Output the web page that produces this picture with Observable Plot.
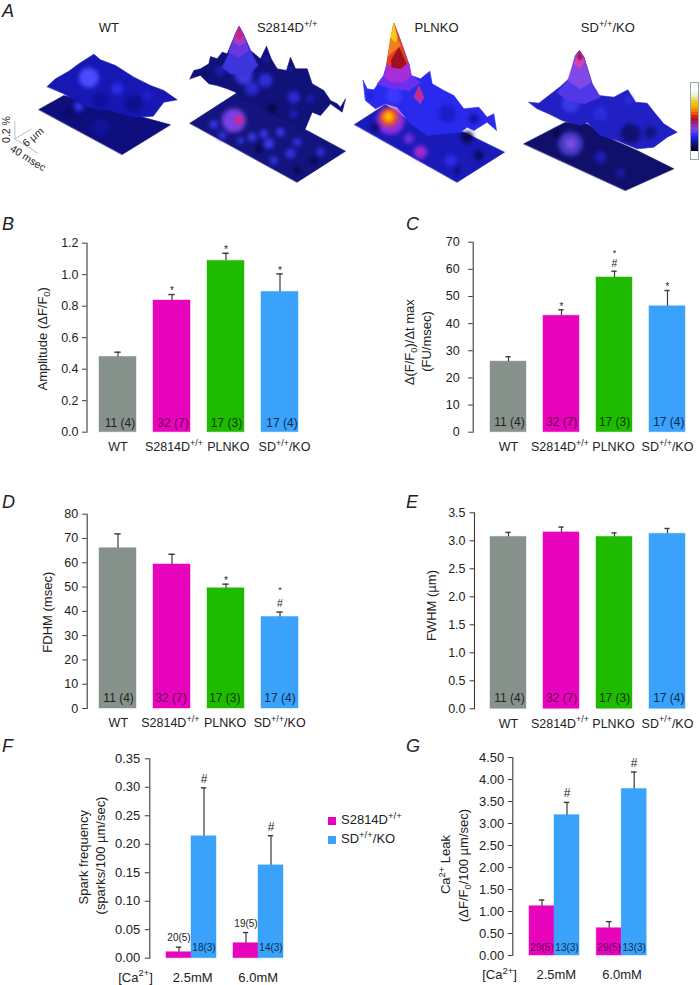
<!DOCTYPE html>
<html>
<head>
<meta charset="utf-8">
<script src="https://cdn.jsdelivr.net/npm/d3@7"></script>
<script src="https://cdn.jsdelivr.net/npm/@observablehq/plot@0.6"></script>
<style>
html,body{margin:0;padding:0;background:#fff;}
#page{position:relative;width:700px;height:985px;overflow:hidden;font-family:"Liberation Sans",Arial,sans-serif;color:#222;}
#page svg{position:absolute;overflow:visible;}
.letter{position:absolute;font-style:italic;font-size:18px;line-height:18px;color:#222;}
.legend{position:absolute;font-size:13px;line-height:14px;white-space:nowrap;}
.legend i{position:absolute;width:8px;height:8px;left:-13.5px;top:4px;}
.legend sup{font-size:9.5px;line-height:0;}
.glow{filter:blur(2.2px);}
</style>
</head>
<body>
<div id="page"></div>
<script>
// ---------- data: bar panels ----------
const groups = ["WT", "S2814D^{+/+}", "PLNKO", "SD^{+/+}/KO"];
const groupColors = ["#87928c", "#e803bd", "#1fbb00", "#3aa2fb"];
const groupText = ["#1e2422", "#640050", "#0d3a00", "#0b2c4c"];
const groupN = ["11 (4)", "32 (7)", "17 (3)", "17 (4)"];

const amplitude = [0.478, 0.836, 1.088, 0.891];
const amplitudeTop = [0.508, 0.874, 1.136, 1.005];
const riseRate = [26.0, 42.9, 57.0, 46.4];
const riseRateTop = [27.8, 45.1, 59.3, 52.2];
const fdhm = [66.0, 59.3, 49.5, 37.7];
const fdhmTop = [71.9, 63.5, 51.2, 39.7];
const fwhm = [3.07, 3.15, 3.07, 3.125];
const fwhmTop = [3.15, 3.245, 3.14, 3.22];

const leakKeys = ["2.5 S", "2.5 SD", "6.0 S", "6.0 SD"];
const leakConc = ["2.5mM", "6.0mM"];
const leakColors = ["#e803bd", "#3aa2fb", "#e803bd", "#3aa2fb"];
const sparkFreq = [0.0105, 0.214, 0.0263, 0.163];
const sparkFreqTop = [0.0193, 0.299, 0.045, 0.215];
const sparkN = ["20(5)", "18(3)", "19(5)", "14(3)"];
const caLeak = [1.12, 3.19, 0.62, 3.785];
const caLeakTop = [1.26, 3.48, 0.77, 4.17];
const leakN = ["29(5)", "13(3)", "29(5)", "13(3)"];

// ---------- data: panel A, outlines and glows (crop units, 3 per pixel) ----------
const wtPlate = [["#0e0e7c","115,327 190,285 510,373 365,462"]];
const wtPlateGlow = [[235,318,5,"#3434e8"],[300,380,9,"#13139a"],[205,340,5,"#0a0a66"]];
const wtSurface = [["#1717b4","140,258 165,235 205,212 235,190 280,161 300,178 345,195 400,230 450,255 490,270 530,298 490,305 458,347 400,350 330,330 260,320 190,280"]];
const wtSurfaceGlow = [[265,232,10,"#4c4cff"],[350,265,6,"#2c2ce4"],[400,310,9,"#0f0f90"],[300,300,8,"#10109c"],[440,285,5,"#2020cc"]];
const wtPeak = [];

const sdPlate = [["#14147e","28,368 165,280 300,330 370,385 495,452 350,545"]];
const sdPlateGlow = [[160,360,12,"#7a40e4"],[175,358,4,"#e82078"],[250,400,4,"#3c3cf4"],[300,395,4,"#3c3cf4"],[265,430,5,"#3c3cf4"],[330,460,5,"#3232e4"],[215,410,4,"#3c3cf4"],[100,372,4,"#3a3af0"],[280,480,4,"#3232e4"],[350,425,4,"#3232e4"],[420,455,4,"#3232e4"],[125,405,4,"#3232e4"],[180,420,3,"#3c3cf4"],[350,510,4,"#08084e"],[400,480,4,"#08084e"],[235,445,4,"#08084e"]];
const sdSurface = [["#11117a","28,235 40,210 60,205 85,190 90,168 110,175 125,155 140,160 165,100 176,78 188,100 210,150 240,175 258,137 272,175 290,205 318,210 330,170 345,205 380,205 395,250 430,270 450,300 470,310 480,320 495,295 485,335 450,310 420,345 395,335 370,395 350,385 320,360 290,350 260,330 220,310 180,300 165,275 140,265 110,255 85,250 60,225"]];
const sdSurfaceGlow = [[190,225,9,"#3a3ae0"],[255,240,7,"#2e2ed8"],[215,265,7,"#2a2ad0"],[340,290,6,"#2c2cd4"],[258,175,2,"#2a2acc"],[330,205,2,"#2a2acc"],[120,210,5,"#1e1eb0"],[275,325,5,"#08084a"],[390,295,4,"#1e1eb0"],[75,218,2,"#060638"],[340,340,4,"#2020c0"]];
const sdPeak = [["#3c34dc","125,200 150,150 165,100 176,78 188,100 210,150 232,195 205,225 150,220"],["#6a38e0","145,155 165,100 176,78 188,100 205,150 175,170"],["#a838c8","158,122 168,96 176,80 186,98 196,125 177,135"],["#d02070","167,106 176,82 186,104 177,116"]];

const koPlate = [["#1a1ab8","12,372 105,312 175,360 340,395 462,455 320,545"]];
const koPlateGlow = [[120,360,14,"#9030e0"],[115,350,9,"#f05018"],[114,349,5,"#ffc000"],[210,455,7,"#8030e0"],[210,455,3,"#d820a0"],[175,415,5,"#7030e0"],[350,410,6,"#080850"],[385,465,5,"#0a0a60"],[75,380,4,"#0a0a60"],[300,480,6,"#2c2ce8"],[320,510,3,"#0a0a60"]];
const koSurface = [["#2a2aee","38,240 50,265 70,268 100,225 110,190 130,68 150,120 175,190 182,225 210,235 238,212 245,250 280,270 310,285 340,325 385,320 410,350 430,340 438,390 410,365 370,390 350,380 330,395 280,400 230,405 180,370 140,320 105,310 75,325 45,300"]];
const koSurfaceGlow = [[290,340,9,"#1c1cc8"],[370,355,5,"#1414a8"],[130,285,8,"#3a3aff"],[60,285,2,"#1414a8"]];
const koPeak = [["#6a30f0","80,250 100,225 110,190 175,190 182,225 210,245 175,270 120,265"],["#a82cd8","100,225 110,190 125,150 175,190 182,225 160,245 120,245"],["#e84020","108,190 130,68 150,120 172,185 150,205"],["#a01020","122,180 145,140 168,190 150,205 125,200"],["#f08020","113,165 120,110 140,110 150,135"],["#f8c820","120,110 130,68 140,110 135,125"],["#b030b0","190,290 205,255 220,290 210,310"],["#d02878","198,280 205,262 214,285 206,295"]];

const dkPlate = [["#10106a","10,430 135,365 200,370 260,410 350,450 460,505 315,570"]];
const dkPlateGlow = [[150,430,12,"#4a3ccc"],[150,430,5,"#8050e0"],[110,398,4,"#08084a"],[240,470,6,"#1e1eb8"],[300,520,5,"#1a1aa0"]];
const dkSurface = [["#2020c4","25,305 55,308 85,285 120,258 150,230 165,165 177,150 190,170 215,250 235,285 280,290 322,268 345,305 380,308 405,340 430,370 470,395 440,410 400,440 350,445 290,420 240,405 200,365 180,375 125,360 85,340 50,325"]];
const dkSurfaceGlow = [[330,400,10,"#10106e"],[390,395,6,"#12127c"],[150,310,9,"#3838e8"],[240,340,7,"#2c2cdc"],[325,300,4,"#2e2ee0"]];
const dkPeak = [["#5038e8","110,275 150,230 165,165 177,150 190,170 215,250 240,290 190,310 140,300"],["#8048e4","142,240 165,165 177,150 190,170 212,245 180,265"],["#d040b0","160,190 177,150 192,185 178,205"],["#b01850","170,170 177,152 186,172 178,180"]];

const colorbarStops = ["#f4f8f0","#eef0c8","#e8e070","#e8d030","#f0c010","#f8a000","#f88000","#f05010","#d82010","#b01040","#a02070","#9030b0","#8040e0","#6040f0","#3030f0","#2020e0","#1818b0","#101080","#0a0a50","#050520"];

const scaleBarLines = [[[43,415],[43,362]],[[43,415],[92,386]],[[43,415],[112,458]]];

// ---------- helpers ----------
const page = document.getElementById("page");
const FONT = '"Liberation Sans", Arial, sans-serif';

function rich(svg) {
  d3.select(svg).selectAll("text").each(function () {
    const s = this.textContent;
    if (!/[\^_]\{/.test(s)) return;
    const t = d3.select(this);
    t.text(null);
    const parts = s.split(/([\^_]\{[^}]*\})/).filter(p => p !== "");
    let back = 0;
    for (const p of parts) {
      const m = p.match(/^([\^_])\{(.*)\}$/);
      if (m) {
        const shift = m[1] === "^" ? -0.42 : 0.22;
        t.append("tspan").attr("font-size", "72%").attr("dy", (shift + back) / 0.72 + "em").text(m[2]);
        back = -shift;
      } else {
        const sp = t.append("tspan").text(p);
        if (back) sp.attr("dy", back + "em");
        back = 0;
      }
    }
  });
}

function place(svg, left, top) {
  svg.style.left = left + "px";
  svg.style.top = top + "px";
  rich(svg);
  page.appendChild(svg);
  return svg;
}

const sideTitle = (t, axisX, mid) => Plot.text([t.text], {frameAnchor: "left", textAnchor: "middle", lineAnchor: "middle", rotate: -90, dx: t.x - axisX, dy: t.y - mid, fontSize: 13, text: d => d, fill: "#222"});

function barPanel(o) {
  const {left, top, width, axisX, yTop, yBottom, domain, ticks, fmt, means, uppers, bandStart, step, bandwidth} = o;
  const height = yBottom - top + 32;
  const p = (step - bandwidth) / step;
  const rows = groups.map((g, i) => ({g, v: means[i], u: uppers[i], i}));
  const capInset = (bandwidth - 6) / 2;
  const marks = [
    Plot.barY(rows, {x: "g", y: "v", fill: "g", stroke: "g", strokeOpacity: 0.45, strokeWidth: 1}),
    Plot.ruleX(rows, {x: "g", y1: "v", y2: "u", stroke: "#3a3a3a", strokeWidth: 1.2}),
    Plot.tickY(rows, {x: "g", y: "u", stroke: "#3a3a3a", strokeWidth: 1.4, insetLeft: capInset, insetRight: capInset}),
    Plot.frame({anchor: "left", stroke: "#3a3a3a", strokeWidth: 1.1}),
    Plot.axisY({ticks, tickFormat: d3.format(fmt), tickSize: 4.5, tickPadding: o.tickPad, fontSize: 12.5, label: null, stroke: "#3a3a3a"}),
    ...groups.map((g, i) => Plot.axisX({ticks: [g], tickSize: 0, tickPadding: 10, fontSize: 12.5, label: null, dx: o.labelDx[i], tickFormat: d => d})),
    ...rows.map(r => Plot.text([r], {x: "g", y: () => 0, text: () => groupN[r.i], fontSize: 12, fill: groupText[r.i], dx: o.nDx[r.i], dy: o.nDy})),
    ...rows.filter(r => o.stars[r.i]).map(r => Plot.text([r], {x: "g", y: "u", text: () => "*", fontSize: o.hash[r.i] ? 9 : 10, fill: "#222", dy: o.hash[r.i] ? o.starOverHash : -3.3})),
    ...rows.filter(r => o.hash[r.i]).map(r => Plot.text([r], {x: "g", y: "u", text: () => "#", fontSize: 10.5, fill: "#222", dy: -8})),
    ...o.titles.map(t => sideTitle(t, axisX, (yTop + yBottom) / 2))
  ];
  return place(Plot.plot({
    width, height, marginTop: yTop - top, marginBottom: height - (yBottom - top), marginLeft: axisX - left, marginRight: 0,
    style: {fontFamily: FONT, background: "transparent", color: "#222", overflow: "visible"},
    x: {domain: groups, range: [bandStart - left, bandStart - left + 4 * step], paddingInner: p, paddingOuter: p / 2, axis: null, label: null},
    y: {domain, axis: null, label: null},
    color: {domain: groups, range: groupColors},
    marks
  }), left, top);
}

function leakPanel(o) {
  const {left, top, width, axisX, yTop, yBottom, domain, ticks, means, uppers, labels, bandStart, step, gapDx} = o;
  const height = yBottom - top + 32;
  const rows = leakKeys.map((k, i) => ({k, v: means[i], u: uppers[i], i, n: labels[i]}));
  const capInset = (step - 6) / 2;
  const first = rows.slice(0, 2), second = rows.slice(2);
  const blocks = [first, second].flatMap((rs, j) => {
    const dx = j ? gapDx : 0;
    return [
      Plot.barY(rs, {x: "k", y: "v", fill: "k", stroke: "k", strokeOpacity: 0.45, dx}),
      Plot.ruleX(rs, {x: "k", y1: "v", y2: "u", stroke: "#3a3a3a", strokeWidth: 1.2, dx}),
      Plot.tickY(rs, {x: "k", y: "u", stroke: "#3a3a3a", strokeWidth: 1.4, insetLeft: capInset, insetRight: capInset, dx}),
      Plot.axisX({ticks: [rs[1].k], tickSize: 0, tickPadding: 14.5, fontSize: 13, label: null, dx: dx - step / 2 + o.concDx[j], tickFormat: () => leakConc[j]})
    ];
  });
  const nMarks = rows.map(r => {
    const dx = r.i >= 2 ? gapDx : 0;
    const above = o.nAbove && r.i % 2 === 0;
    return Plot.text([r], {x: "k", y: above ? "u" : () => 0, text: "n", fontSize: 10, dx, dy: above ? -9 : o.nDy,
      fill: above ? "#222" : (r.i % 2 ? "#0b2c4c" : "#640050")});
  });
  const hashes = rows.filter(r => r.i % 2).map(r => Plot.text([r], {x: "k", y: "u", text: () => "#", fontSize: 12, fill: "#222", dy: -9, dx: r.i >= 2 ? gapDx : 0}));
  return place(Plot.plot({
    width, height, marginTop: yTop - top, marginBottom: height - (yBottom - top), marginLeft: axisX - left, marginRight: 0,
    style: {fontFamily: FONT, background: "transparent", color: "#222", overflow: "visible"},
    x: {domain: leakKeys, range: [bandStart - left, bandStart - left + 4 * step], padding: 0, axis: null, label: null},
    y: {domain, axis: null, label: null},
    color: {domain: leakKeys, range: leakColors},
    marks: [
      ...blocks, ...nMarks, ...hashes,
      Plot.frame({anchor: "left", stroke: "#3a3a3a", strokeWidth: 1.1}),
      Plot.axisY({ticks, tickFormat: d3.format(".2f"), tickSize: 4.5, tickPadding: o.tickPad, fontSize: 13, label: null, stroke: "#3a3a3a"}),
      Plot.text(["[Ca^{2+}]"], {frameAnchor: "bottom-left", textAnchor: "middle", lineAnchor: "middle", dx: o.caX - axisX, dy: 19.5, fontSize: 13, text: d => d, fill: "#222"}),
      ...o.titles.map(t => sideTitle(t, axisX, (yTop + yBottom) / 2))
    ]
  }), left, top);
}

function surface(left, w, plate, plateGlow, surf, surfGlow, peak, extra = []) {
  const poly = list => list.map(([c, pts]) => {
    const P = pts.split(" ").map(s => s.split(",").map(Number));
    return Plot.line(P, {x: d => d[0], y: d => d[1], curve: "linear-closed", fill: c, stroke: c, strokeWidth: 0.6});
  });
  const glow = list => list.length ? [Plot.dot(list, {x: d => d[0], y: d => d[1], r: d => d[2], fill: d => d[3], stroke: "none", className: "glow"})] : [];
  return place(Plot.plot({
    width: w, height: 190, margin: 0,
    style: {fontFamily: FONT, background: "transparent", color: "#222", overflow: "visible"},
    x: {domain: [0, w * 3], axis: null},
    y: {domain: [570, 0], axis: null},
    r: {type: "identity"},
    color: {type: "identity"},
    marks: [...poly(plate), ...glow(plateGlow), ...poly(surf), ...glow(surfGlow), ...poly(peak), ...extra]
  }), left, 0);
}

// ---------- Panel A ----------
const crop = (x, y, text, o = {}) => Plot.text([text], {x: () => x, y: () => y, text: d => d, fontSize: 13, fill: "#222", ...o});
surface(0, 180, wtPlate, wtPlateGlow, wtSurface, wtSurfaceGlow, wtPeak, [
  ...scaleBarLines.map(l => Plot.line(l, {x: d => d[0], y: d => d[1], stroke: "#bcc2c0", strokeWidth: 1})),
  crop(17, 387, "0.2 %", {rotate: -90, fontSize: 10.5}),
  crop(98, 410, "6 µm", {rotate: -40, fontSize: 10.5}),
  crop(82, 473, "40 msec", {rotate: 32, fontSize: 10.5}),
  crop(325, 82, "WT")
]);
surface(180, 170, sdPlate, sdPlateGlow, sdSurface, sdSurfaceGlow, sdPeak, [crop(320, 82, "S2814D^{+/+}")]);
surface(350, 170, koPlate, koPlateGlow, koSurface, koSurfaceGlow, koPeak, [crop(258, 82, "PLNKO")]);
surface(520, 180, dkPlate, dkPlateGlow, dkSurface, dkSurfaceGlow, dkPeak, [crop(262, 82, "SD^{+/+}/KO")]);

// colour bar
place(Plot.plot({
  width: 8, height: 77, margin: 0,
  style: {background: "transparent", overflow: "visible"},
  x: {axis: null}, y: {domain: colorbarStops, axis: null, padding: 0},
  color: {type: "identity"},
  marks: [
    Plot.cell(colorbarStops, {y: d => d, fill: d => d}),
    Plot.frame({stroke: "#9aa5a0", strokeWidth: 1})
  ]
}), 690, 82);

// ---------- Panels B–E ----------
const L = {band: 90.7, step: 54, bw: 36.6};
const R = {band: 480.2, step: 53.9, bw: 36.8};
barPanel({
  left: 0, top: 225, width: 345, axisX: 86.5, yTop: 242.7, yBottom: 431.7, domain: [0, 1.2],
  ticks: [0, 0.2, 0.4, 0.6, 0.8, 1.0, 1.2], fmt: ".1f", tickPad: 4, means: amplitude, uppers: amplitudeTop,
  bandStart: L.band, step: L.step, bandwidth: L.bw, labelDx: [0, 2, 2.3, 4.5], nDx: [2, 1, 0.5, 2], nDy: -9.5,
  stars: [0, 1, 1, 1], hash: [0, 0, 0, 0],
  titles: [{text: "Amplitude (ΔF/F_{0})", x: 42.7, y: 338.3}]
});
barPanel({
  left: 350, top: 225, width: 345, axisX: 472.7, yTop: 241.7, yBottom: 431.7, domain: [0, 70],
  ticks: [0, 10, 20, 30, 40, 50, 60, 70], fmt: "d", tickPad: 9, means: riseRate, uppers: riseRateTop,
  bandStart: R.band, step: R.step, bandwidth: R.bw, labelDx: [0, -1.5, -1, 0], nDx: [1, 0.2, 0.1, 1.3], nDy: -10,
  stars: [0, 1, 1, 1], hash: [0, 0, 1, 0], starOverHash: -18,
  titles: [{text: "Δ(F/F_{0})/Δt max", x: 409.3, y: 341.7}, {text: "(FU/msec)", x: 426.7, y: 341}]
});
barPanel({
  left: 0, top: 500, width: 345, axisX: 86.7, yTop: 513.7, yBottom: 708, domain: [0, 80],
  ticks: [0, 10, 20, 30, 40, 50, 60, 70, 80], fmt: "d", tickPad: 4.5, means: fdhm, uppers: fdhmTop,
  bandStart: L.band, step: L.step, bandwidth: L.bw, labelDx: [0.3, -1.7, -0.9, -0.3], nDx: [0.6, -1, -1.2, 0], nDy: -10.3,
  stars: [0, 0, 1, 1], hash: [0, 0, 0, 1], starOverHash: -22,
  titles: [{text: "FDHM (msec)", x: 47.3, y: 611.7}]
});
barPanel({
  left: 350, top: 500, width: 345, axisX: 474, yTop: 512.3, yBottom: 708.3, domain: [0, 3.5],
  ticks: [0, 0.5, 1, 1.5, 2, 2.5, 3, 3.5], fmt: ".1f", tickPad: 4.5, means: fwhm, uppers: fwhmTop,
  bandStart: R.band, step: R.step, bandwidth: R.bw, labelDx: [0, -1.5, -1, 0], nDx: [1, 0.2, 0.1, 1.3], nDy: -11,
  stars: [0, 0, 0, 0], hash: [0, 0, 0, 0],
  titles: [{text: "FWHM (µm)", x: 431, y: 605}]
});

// ---------- Panels F, G ----------
leakPanel({
  left: 0, top: 745, width: 320, axisX: 149.3, yTop: 758.3, yBottom: 957.7, domain: [0, 0.35],
  ticks: [0, 0.05, 0.1, 0.15, 0.2, 0.25, 0.3, 0.35], tickPad: 5, means: sparkFreq, uppers: sparkFreqTop, labels: sparkN,
  bandStart: 165, step: 25.65, gapDx: 17, concDx: [1.5, 0], nAbove: true, nDy: -10, caX: 135,
  titles: [{text: "Spark frequency", x: 83.3, y: 856.7}, {text: "(sparks/100 µm/sec)", x: 100, y: 855}]
});
leakPanel({
  left: 400, top: 745, width: 295, axisX: 512.3, yTop: 757, yBottom: 955, domain: [0, 4.5],
  ticks: [0, 0.5, 1, 1.5, 2, 2.5, 3, 3.5, 4, 4.5], tickPad: 4, means: caLeak, uppers: caLeakTop, labels: leakN,
  bandStart: 528.3, step: 25.4, gapDx: 17.2, concDx: [2, 0.5], nAbove: false, nDy: -8, caX: 499,
  titles: [{text: "Ca^{2+} Leak", x: 445.7, y: 864}, {text: "(ΔF/F_{0}/100 µm/sec)", x: 463.3, y: 865}]
});

// ---------- letters and legend ----------
[["A", 2, 2], ["B", 2, 215], ["C", 406, 215], ["D", 2, 493], ["E", 406, 493], ["F", 2, 737], ["G", 406, 737]].forEach(([t, x, y]) => {
  const d = document.createElement("div");
  d.className = "letter"; d.textContent = t; d.style.left = x + "px"; d.style.top = y + "px";
  page.appendChild(d);
});
[["S2814D<sup>+/+</sup>", "#e803bd", 813], ["SD<sup>+/+</sup>/KO", "#3aa2fb", 832]].forEach(([h, c, y]) => {
  const d = document.createElement("div");
  d.className = "legend"; d.innerHTML = "<i style='background:" + c + "'></i>" + h;
  d.style.left = "341px"; d.style.top = y + "px";
  page.appendChild(d);
});
</script>
</body>
</html>
